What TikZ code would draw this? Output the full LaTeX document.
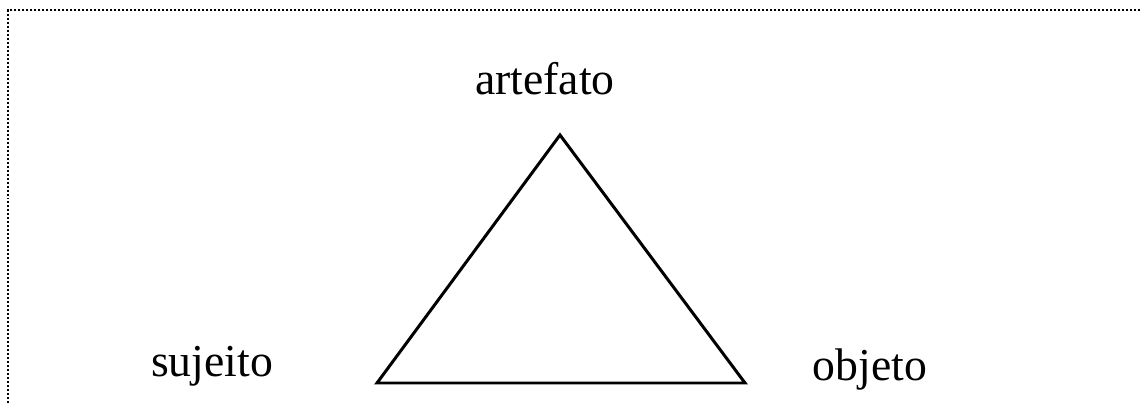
\documentclass[tikz,border=0pt]{standalone}
\usepackage{fontspec}
\setmainfont{Liberation Serif}
\usepackage{tikz}
\tikzset{frameline/.style={line width=0.05cm, dash pattern=on 0.04cm off 0.04cm},
  vertexlabel/.style={anchor=base, inner sep=0pt, font=\fontsize{26}{30}\selectfont}}

\begin{document}
\begin{tikzpicture}[x=0.02cm, y=-0.02cm]
\useasboundingbox (0,0) rectangle (1140,405);
% dotted frame, top and left only
\coordinate (frametl) at (8,10);
\coordinate (frametr) at (1140,10);
\coordinate (framebl) at (8,405);
\draw[frameline] (frametr) -- (frametl) -- (framebl);
% triangle
\coordinate (top) at (560,135);
\coordinate (left) at (377,383);
\coordinate (right) at (745,383);
\draw[line width=0.06cm, line join=miter] (top) -- (left) -- (right) -- cycle;
\node[vertexlabel] (artefato) at (545,95) {artefato};
\node[vertexlabel] (sujeito) at (212,377) {sujeito};
\node[vertexlabel] (objeto) at (870,380) {objeto};
\end{tikzpicture}
\end{document}
